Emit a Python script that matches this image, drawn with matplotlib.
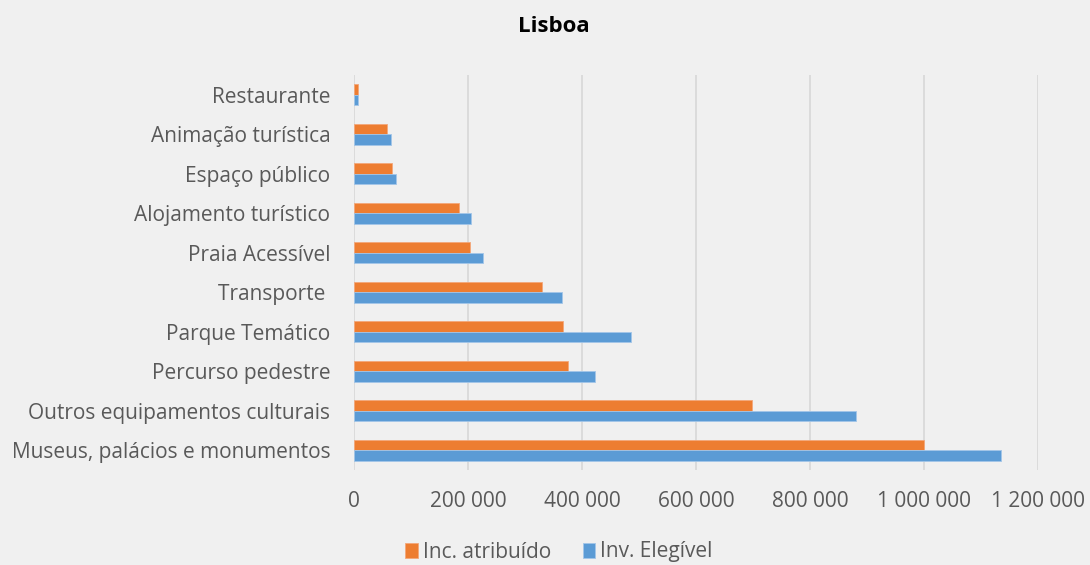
import numpy as np
import matplotlib
matplotlib.use("Agg")
import matplotlib.pyplot as plt
from matplotlib.ticker import FuncFormatter

plt.rcParams['font.family'] = ['Open Sans', 'DejaVu Sans']

categories = ["Museus, palácios e monumentos", "Outros equipamentos culturais",
              "Percurso pedestre", "Parque Temático", "Transporte ",
              "Praia Acessível", "Alojamento turístico", "Espaço público",
              "Animação turística", "Restaurante"]
inc_atribuido = [1000000, 699000, 375000, 367000, 329000,
                 204000, 184000, 66000, 58000, 6500]
inv_elegivel = [1134500, 880000, 423500, 486500, 365000,
                227000, 204500, 74000, 65000, 7500]
xticks = [0, 200000, 400000, 600000, 800000, 1000000, 1200000]

BG = '#f0f0f0'
TXT = '#595959'
FS = 15

fig = plt.figure(figsize=(10.9, 5.65), dpi=100, facecolor=BG)
ax = fig.add_axes([354/1090, 1 - 470/565, (1038-354)/1090, 395/565])
ax.set_facecolor(BG)

y = np.arange(len(categories))
h = 0.26
ax.barh(y + h/2, inc_atribuido, height=h, color='#ED7D31', label='Inc. atribuído',
        edgecolor='#f3a77a', linewidth=0.6, zorder=3)
ax.barh(y - h/2, inv_elegivel, height=h, color='#5B9BD5', label='Inv. Elegível',
        edgecolor='#a3c6e8', linewidth=0.6, zorder=3)

ax.set_ylim(-0.5, len(categories) - 0.5)
ax.set_xlim(0, 1200000)
ax.set_xticks(xticks)
ax.xaxis.set_major_formatter(FuncFormatter(lambda v, p: f"{int(v):,}".replace(",", " ")))
ax.set_yticks(y)
ax.set_yticklabels(categories)
ax.tick_params(axis='both', length=0, colors=TXT, labelsize=FS)
ax.tick_params(axis='x', pad=15)
ax.tick_params(axis='y', pad=17)
ax.grid(axis='x', color='#d9d9d9', linewidth=1.3, zorder=0)
for s in ax.spines.values():
    s.set_visible(False)

fig.text(554/1090, 1 - 27/565, "Lisboa", ha='center', va='center',
         fontsize=16, fontweight='bold', color='black')

leg = fig.legend(loc='center', bbox_to_anchor=(559/1090, 1 - 552/565), ncol=2,
                 frameon=False, fontsize=FS, handlelength=0.6, handleheight=0.75,
                 handletextpad=0.25, columnspacing=1.5)
for t in leg.get_texts():
    t.set_color(TXT)

fig.savefig("out.png", dpi=100, facecolor=BG)
